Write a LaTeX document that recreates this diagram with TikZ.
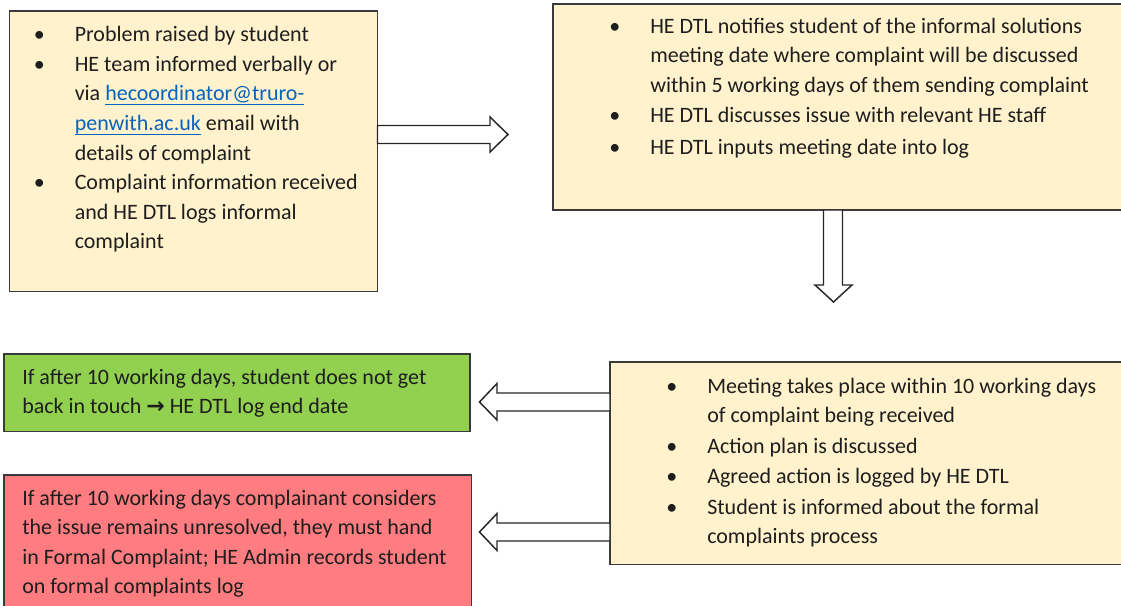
\documentclass[tikz,border=0pt]{standalone}
\usepackage{fontspec}
\setmainfont{Carlito}
\newfontfamily\symfont{DejaVu Sans}
\usetikzlibrary{fit}

\definecolor{cream}{HTML}{FFF2CC}
\definecolor{okgreen}{HTML}{92D050}
\definecolor{alertred}{HTML}{FF7C80}
\definecolor{edge}{HTML}{3A3A3A}
\definecolor{ink}{HTML}{1E1E1E}
\definecolor{linkblue}{HTML}{0563C1}

% bullet hung to the left of the text column
\newcommand\bul{\llap{\makebox[0pt]{\textbullet}\hspace{26.6pt}}}
% underlined e-mail address
\newcommand\maillink[1]{{\color{linkblue}\setbox0\hbox{#1}\rlap{\rule[-3.4pt]{\wd0}{0.9pt}}\box0}}

\begin{document}
\begin{tikzpicture}[x=0.75pt,y=-0.75pt,
  box/.style={draw=edge,line width=1.1pt,inner sep=0pt,outer sep=0pt},
  txt/.style={anchor=base west,inner sep=0pt,text=ink,
              font=\fontsize{16.5}{22.2}\selectfont},
  blockarrow/.style={draw=black!85,fill=white,line width=1.1pt,line join=miter}]

\useasboundingbox (0,0) rectangle (1121,606);

% boxes
\node[box,fill=cream,fit={(9.5,11)(377.5,291.7)}] (b1) {};
\node[box,fill=cream,fit={(553,4)(1126,210)}] (b2) {};
\node[box,fill=cream,fit={(610,362)(1126,564.3)}] (b3) {};
\node[box,fill=okgreen,fit={(4,354)(470,431.7)}] (bg) {};
\node[box,fill=alertred,fit={(4,475)(471.5,614)}] (br) {};

% texts
\node[txt] (t1) at (74.5,41.7) {\begin{tabular}[t]{@{}l@{}}
\bul Problem raised by student\\
\bul HE team informed verbally or\\
via \maillink{hecoordinator@truro-}\\
\maillink{penwith.ac.uk} email with\\
details of complaint\\
\bul Complaint information received\\
and HE DTL logs informal\\
complaint
\end{tabular}};

\node[txt] (t2) at (650,33.3) {\begin{tabular}[t]{@{}l@{}}
\bul HE DTL notifies student of the informal solutions\\
meeting date where complaint will be discussed\\
within 5 working days of them sending complaint\\
\bul HE DTL discusses issue with relevant HE staff\\[2pt]
\bul HE DTL inputs meeting date into log
\end{tabular}};

\node[txt] (t3) at (707,393.3) {\begin{tabular}[t]{@{}l@{}}
\bul Meeting takes place within 10 working days\\
of complaint being received\\[0.6pt]
\bul Action plan is discussed\\[0.6pt]
\bul Agreed action is logged by HE DTL\\[0.6pt]
\bul Student is informed about the formal\\
complaints process
\end{tabular}};

\node[txt] (tg) at (22,384.3) {\begin{tabular}[t]{@{}l@{}}
If after 10 working days, student does not get\\
back in touch {\symfont\bfseries\fontsize{16.5}{16.5}\selectfont →} HE DTL log end date
\end{tabular}};

\node[txt] (tr) at (22,505) {\begin{tabular}[t]{@{}l@{}}
If after 10 working days complainant considers\\
the issue remains unresolved, they must hand\\
in Formal Complaint; HE Admin records student\\
on formal complaints log
\end{tabular}};

% block arrows between the boxes
\draw[blockarrow] (377.5,125.5) -- (490,125.5) -- (490,117) -- (508,134.5)
  -- (490,152) -- (490,143.5) -- (377.5,143.5) -- cycle;
\draw[blockarrow] (823.5,210) -- (823.5,285) -- (815,285) -- (833.5,302)
  -- (852,285) -- (842.5,285) -- (842.5,210) -- cycle;
\draw[blockarrow] (610,393) -- (497,393) -- (497,383.5) -- (479.5,402)
  -- (497,420) -- (497,411) -- (610,411) -- cycle;
\draw[blockarrow] (610,523) -- (497,523) -- (497,513.5) -- (479.5,532)
  -- (497,550.5) -- (497,541) -- (610,541) -- cycle;
\end{tikzpicture}
\end{document}
